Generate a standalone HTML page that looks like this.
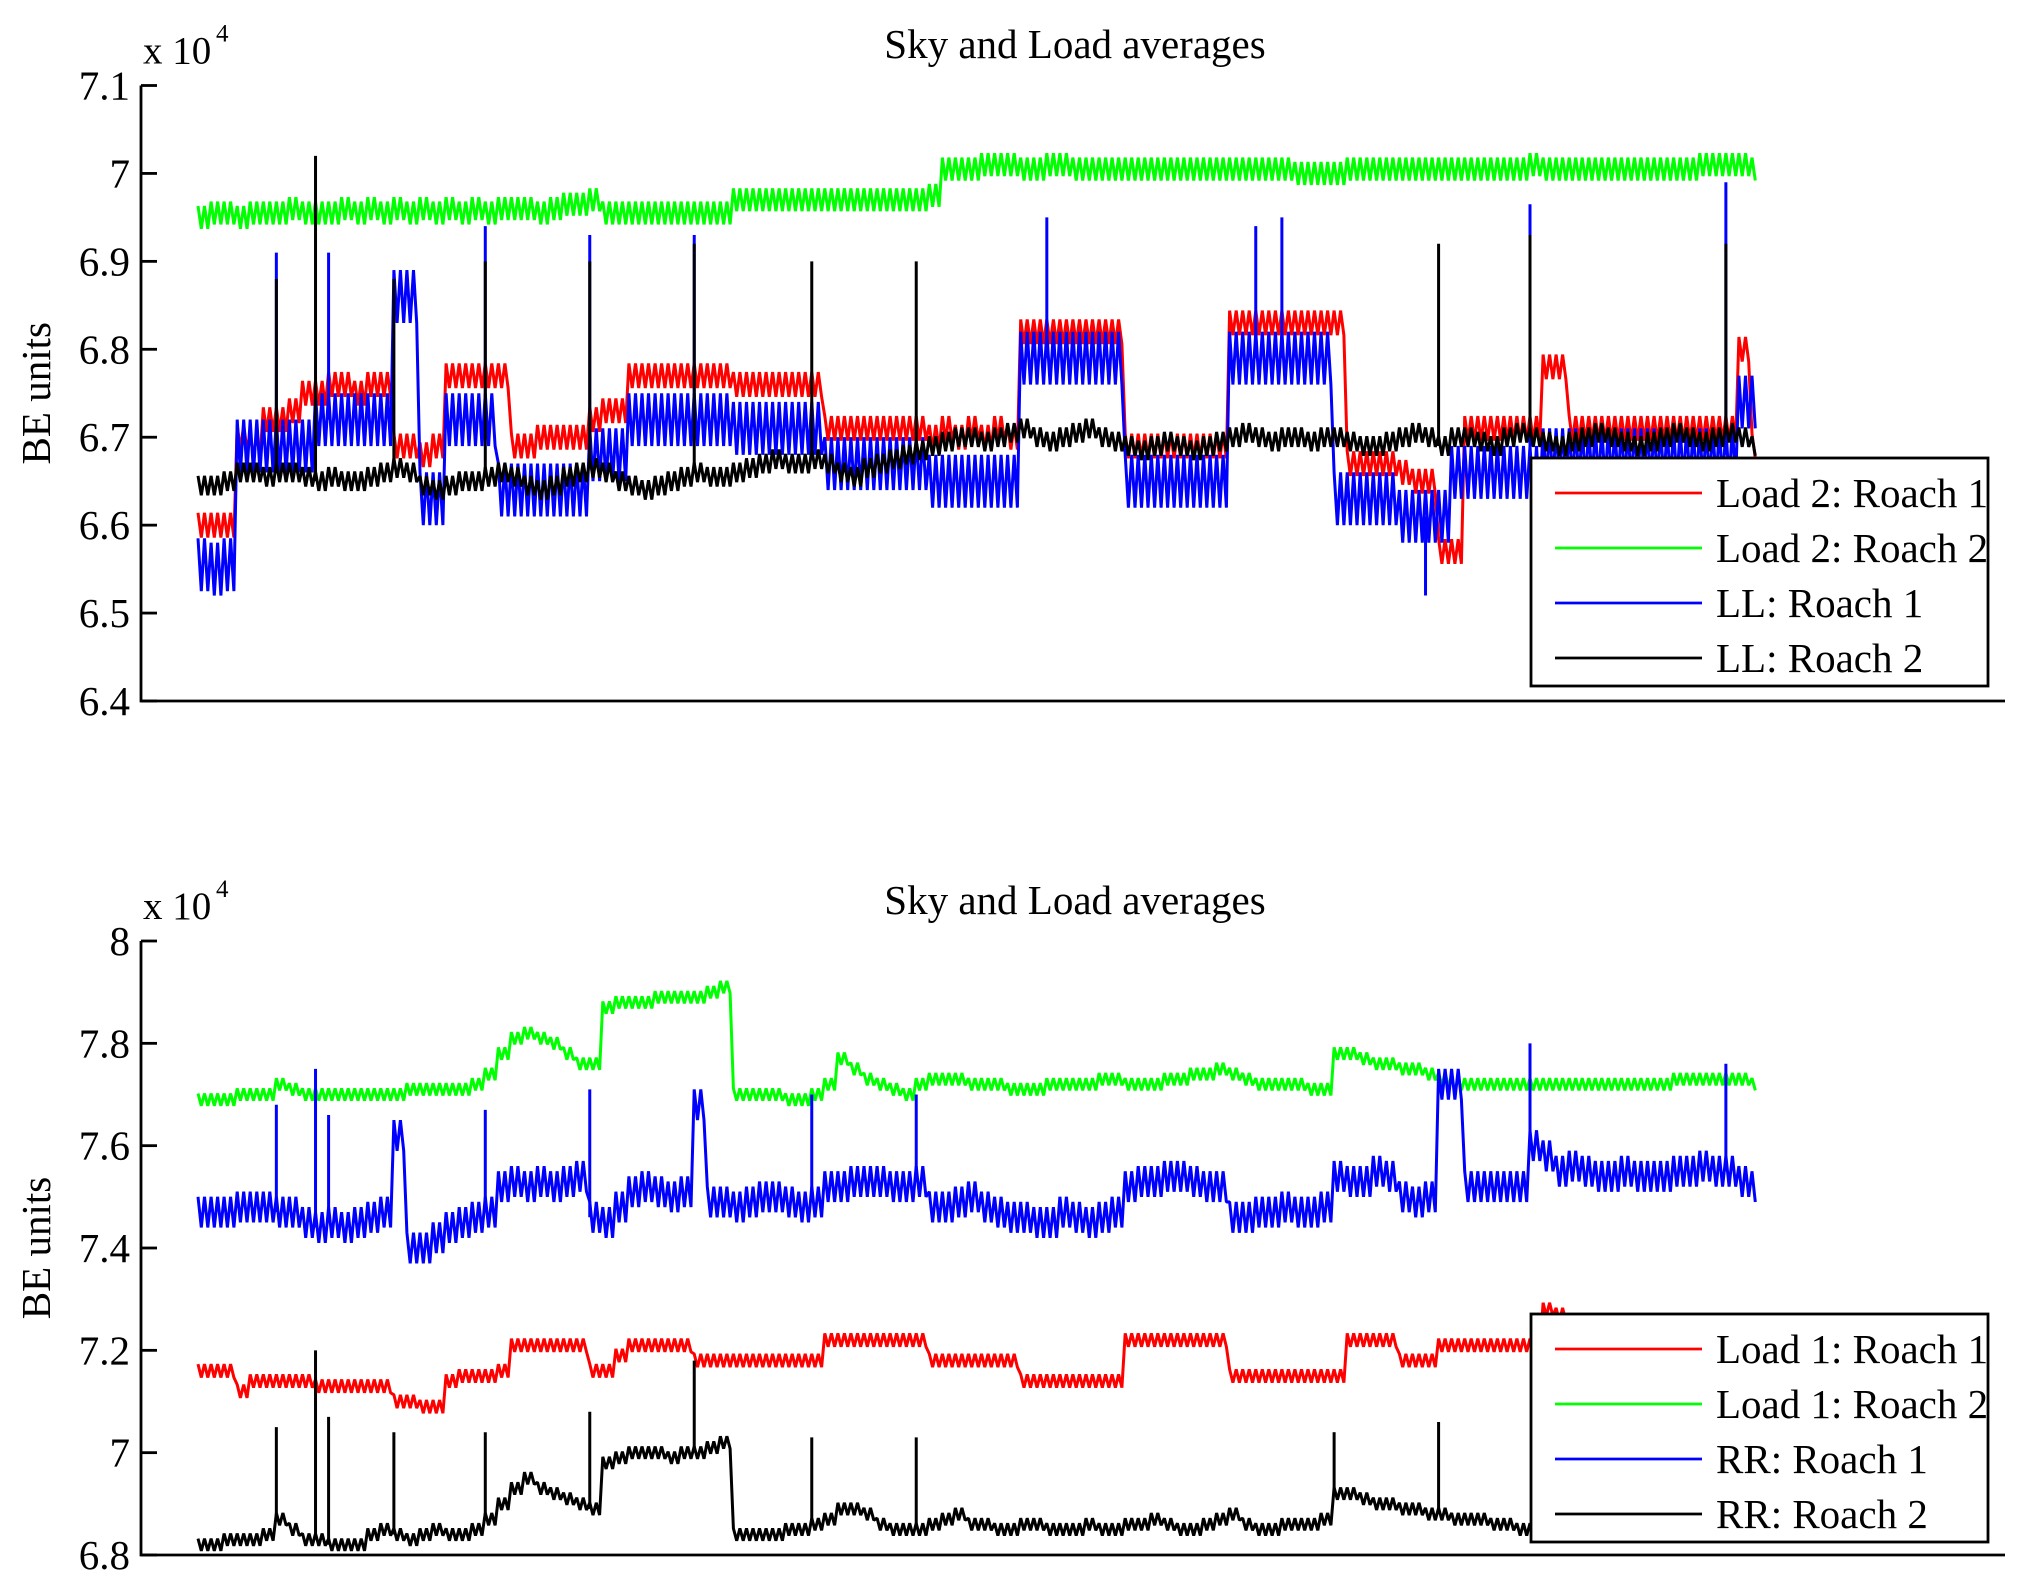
<!DOCTYPE html>
<html><head><meta charset="utf-8"><style>
html,body{margin:0;padding:0;background:#fff;}
svg{display:block;font-family:"Liberation Serif",serif;}
</style></head><body>
<svg id="chart" width="2029" height="1592" viewBox="0 0 2029 1592" xmlns="http://www.w3.org/2000/svg">
<rect width="2029" height="1592" fill="#fff"/>
<g id="top"></g>
<g id="bot"></g>
</svg>
<script>
// ---------- data (values in units of 10^4) ----------
const topRedValues=[6.60,6.60,6.60,6.70,6.69,6.72,6.72,6.73,6.75,6.75,6.76,6.76,6.75,6.76,6.76,6.69,6.69,6.68,6.69,6.77,6.77,6.77,6.77,6.77,6.69,6.69,6.70,6.70,6.70,6.70,6.72,6.73,6.73,6.77,6.77,6.77,6.77,6.77,6.77,6.77,6.77,6.76,6.76,6.76,6.76,6.76,6.76,6.76,6.71,6.71,6.71,6.71,6.71,6.71,6.71,6.71,6.70,6.71,6.70,6.71,6.70,6.71,6.70,6.82,6.82,6.82,6.82,6.82,6.82,6.82,6.82,6.69,6.69,6.69,6.69,6.69,6.69,6.69,6.69,6.83,6.83,6.83,6.83,6.83,6.83,6.83,6.83,6.83,6.67,6.67,6.67,6.67,6.66,6.65,6.65,6.57,6.57,6.71,6.71,6.71,6.71,6.71,6.71,6.78,6.78,6.71,6.71,6.71,6.71,6.71,6.71,6.71,6.71,6.71,6.71,6.71,6.71,6.71,6.80,6.69];
const topGreenValues=[6.95,6.955,6.955,6.95,6.955,6.955,6.955,6.96,6.955,6.955,6.955,6.96,6.955,6.96,6.955,6.96,6.955,6.96,6.955,6.96,6.955,6.96,6.955,6.96,6.96,6.96,6.955,6.96,6.965,6.965,6.97,6.955,6.955,6.955,6.955,6.955,6.955,6.955,6.955,6.955,6.955,6.97,6.97,6.97,6.97,6.97,6.97,6.97,6.97,6.97,6.97,6.97,6.97,6.97,6.97,6.97,6.975,7.005,7.005,7.005,7.01,7.01,7.01,7.005,7.005,7.01,7.01,7.005,7.005,7.005,7.005,7.005,7.005,7.005,7.005,7.005,7.005,7.005,7.005,7.005,7.005,7.005,7.005,7.005,7.0,7.0,7.0,7.0,7.005,7.005,7.005,7.005,7.005,7.005,7.005,7.005,7.005,7.005,7.005,7.005,7.005,7.005,7.01,7.005,7.005,7.005,7.005,7.005,7.005,7.005,7.005,7.005,7.005,7.005,7.005,7.01,7.01,7.01,7.01,7.005];
const topBlueValues=[6.555,6.55,6.555,6.69,6.69,6.69,6.69,6.69,6.69,6.72,6.72,6.72,6.72,6.72,6.72,6.86,6.86,6.63,6.63,6.72,6.72,6.72,6.72,6.64,6.64,6.64,6.64,6.64,6.64,6.64,6.68,6.68,6.68,6.72,6.72,6.72,6.72,6.72,6.72,6.72,6.72,6.71,6.71,6.71,6.71,6.71,6.71,6.71,6.67,6.67,6.67,6.67,6.67,6.67,6.67,6.67,6.65,6.65,6.65,6.65,6.65,6.65,6.65,6.79,6.79,6.79,6.79,6.79,6.79,6.79,6.79,6.65,6.65,6.65,6.65,6.65,6.65,6.65,6.65,6.79,6.79,6.79,6.79,6.79,6.79,6.79,6.79,6.63,6.63,6.63,6.63,6.63,6.61,6.61,6.61,6.61,6.66,6.66,6.66,6.66,6.66,6.66,6.66,6.68,6.68,6.68,6.68,6.68,6.68,6.68,6.68,6.68,6.68,6.68,6.68,6.68,6.68,6.68,6.74,6.74];
const topBlackValues=[6.645,6.645,6.65,6.66,6.66,6.655,6.66,6.66,6.655,6.65,6.655,6.65,6.65,6.655,6.66,6.665,6.66,6.645,6.64,6.645,6.65,6.65,6.655,6.66,6.655,6.645,6.64,6.645,6.655,6.66,6.665,6.66,6.65,6.645,6.64,6.645,6.65,6.655,6.66,6.655,6.655,6.66,6.665,6.67,6.675,6.67,6.67,6.675,6.67,6.66,6.655,6.665,6.67,6.675,6.68,6.685,6.69,6.695,6.70,6.70,6.695,6.70,6.705,6.71,6.70,6.695,6.70,6.705,6.71,6.70,6.695,6.69,6.685,6.69,6.695,6.69,6.685,6.69,6.695,6.70,6.705,6.70,6.695,6.70,6.70,6.695,6.70,6.70,6.695,6.69,6.69,6.695,6.70,6.705,6.70,6.69,6.70,6.70,6.695,6.69,6.70,6.705,6.70,6.695,6.69,6.695,6.70,6.705,6.70,6.695,6.69,6.695,6.70,6.705,6.70,6.695,6.70,6.705,6.70,6.69];
const topBlackSpikeIdx=[6,9,15,22,30,38,47,55,95,102,117];
const topBlackSpikeVal=[6.88,7.02,6.88,6.90,6.90,6.92,6.90,6.90,6.92,6.93,6.92];
const topBlueSpikeIdx=[6,10,22,30,38,65,81,83,102,117,94];
const topBlueSpikeVal=[6.91,6.91,6.94,6.93,6.93,6.95,6.94,6.95,6.965,6.99,6.52];

const botRedValues=[7.16,7.16,7.16,7.12,7.14,7.14,7.14,7.14,7.14,7.13,7.13,7.13,7.13,7.13,7.13,7.10,7.10,7.09,7.09,7.14,7.15,7.15,7.15,7.16,7.21,7.21,7.21,7.21,7.21,7.21,7.16,7.16,7.19,7.21,7.21,7.21,7.21,7.21,7.18,7.18,7.18,7.18,7.18,7.18,7.18,7.18,7.18,7.18,7.22,7.22,7.22,7.22,7.22,7.22,7.22,7.22,7.18,7.18,7.18,7.18,7.18,7.18,7.18,7.14,7.14,7.14,7.14,7.14,7.14,7.14,7.14,7.22,7.22,7.22,7.22,7.22,7.22,7.22,7.22,7.15,7.15,7.15,7.15,7.15,7.15,7.15,7.15,7.15,7.22,7.22,7.22,7.22,7.18,7.18,7.18,7.21,7.21,7.21,7.21,7.21,7.21,7.21,7.21,7.28,7.27,7.21,7.21,7.21,7.21,7.21,7.21,7.21,7.21,7.21,7.21,7.21,7.21,7.21,7.21,7.21];
const botGreenValues=[7.69,7.69,7.69,7.70,7.70,7.70,7.72,7.71,7.70,7.70,7.70,7.70,7.70,7.70,7.70,7.70,7.71,7.71,7.71,7.71,7.71,7.72,7.74,7.78,7.81,7.82,7.81,7.80,7.78,7.76,7.76,7.87,7.88,7.88,7.88,7.89,7.89,7.89,7.89,7.90,7.91,7.70,7.70,7.70,7.70,7.69,7.69,7.70,7.72,7.77,7.75,7.73,7.72,7.71,7.70,7.72,7.73,7.73,7.73,7.72,7.72,7.72,7.71,7.71,7.71,7.72,7.72,7.72,7.72,7.73,7.73,7.72,7.72,7.72,7.73,7.73,7.74,7.74,7.75,7.74,7.73,7.72,7.72,7.72,7.72,7.71,7.71,7.78,7.78,7.77,7.76,7.76,7.75,7.75,7.74,7.73,7.72,7.72,7.72,7.72,7.72,7.72,7.72,7.72,7.72,7.72,7.72,7.72,7.72,7.72,7.72,7.72,7.72,7.73,7.73,7.73,7.73,7.73,7.73,7.72];
const botBlueValues=[7.47,7.47,7.47,7.48,7.48,7.48,7.47,7.47,7.45,7.44,7.45,7.44,7.45,7.46,7.47,7.62,7.40,7.40,7.42,7.44,7.45,7.46,7.47,7.52,7.53,7.52,7.53,7.52,7.53,7.54,7.46,7.45,7.48,7.51,7.52,7.51,7.50,7.51,7.68,7.49,7.49,7.48,7.49,7.50,7.50,7.49,7.48,7.49,7.52,7.52,7.53,7.53,7.53,7.52,7.52,7.53,7.48,7.48,7.49,7.50,7.48,7.47,7.46,7.46,7.45,7.45,7.47,7.46,7.45,7.46,7.47,7.52,7.53,7.53,7.54,7.54,7.53,7.52,7.52,7.46,7.46,7.47,7.47,7.48,7.47,7.47,7.48,7.54,7.53,7.53,7.55,7.54,7.50,7.49,7.50,7.72,7.72,7.52,7.52,7.52,7.52,7.52,7.60,7.58,7.55,7.56,7.55,7.54,7.54,7.55,7.54,7.54,7.54,7.55,7.55,7.56,7.55,7.55,7.53,7.52];
const botBlackValues=[6.82,6.82,6.83,6.83,6.83,6.84,6.87,6.85,6.83,6.83,6.82,6.82,6.82,6.84,6.85,6.84,6.83,6.84,6.85,6.84,6.84,6.85,6.87,6.90,6.93,6.95,6.93,6.92,6.91,6.90,6.89,6.98,6.99,7.00,7.00,7.00,6.99,7.00,7.00,7.01,7.02,6.84,6.84,6.84,6.84,6.85,6.85,6.86,6.87,6.89,6.89,6.88,6.86,6.85,6.85,6.85,6.86,6.87,6.88,6.86,6.86,6.85,6.85,6.86,6.86,6.85,6.85,6.85,6.86,6.85,6.85,6.86,6.86,6.87,6.86,6.85,6.85,6.86,6.87,6.88,6.86,6.85,6.85,6.86,6.86,6.86,6.87,6.92,6.92,6.91,6.90,6.90,6.89,6.89,6.88,6.88,6.87,6.87,6.87,6.86,6.86,6.85,6.85,6.85,6.85,6.85,6.85,6.85,6.85,6.85,6.85,6.85,6.85,6.85,6.85,6.85,6.85,6.85,6.85,6.85];
const botBlackSpikeIdx=[6,9,10,15,22,30,38,47,55,87,95];
const botBlackSpikeVal=[7.05,7.20,7.07,7.04,7.04,7.08,7.18,7.03,7.03,7.04,7.06];
const botBlueSpikeIdx=[6,9,10,22,30,47,55,102,117];
const botBlueSpikeVal=[7.68,7.75,7.66,7.67,7.71,7.70,7.70,7.80,7.76];

const topTicks=["7.1","7","6.9","6.8","6.7","6.6","6.5","6.4"];
const topTickVals=[7.1,7.0,6.9,6.8,6.7,6.6,6.5,6.4];
const botTicks=["8","7.8","7.6","7.4","7.2","7","6.8"];
const botTickVals=[8.0,7.8,7.6,7.4,7.2,7.0,6.8];
const topLegend=["Load 2: Roach 1","Load 2: Roach 2","LL: Roach 1","LL: Roach 2"];
const botLegend=["Load 1: Roach 1","Load 1: Roach 2","RR: Roach 1","RR: Roach 2"];
const colors=["#ff0000","#00ff00","#0000ff","#000000"];

// ---------- rendering ----------
const NS="http://www.w3.org/2000/svg";
function mk(parent,tag,attrs){const e=document.createElementNS(NS,tag);for(const k in attrs)e.setAttribute(k,attrs[k]);parent.appendChild(e);return e;}
const N=topRedValues.length;
const X0=198,X1=1752;
const SUB=2;
function xScale(i){return X0+i*(X1-X0)/(N-1);}

function panel(g,cfg){
  const y=v=>cfg.yTop+(cfg.vMax-v)*(cfg.yBot-cfg.yTop)/(cfg.vMax-cfg.vMin);
  const step=(X1-X0)/(N-1);
  cfg.series.forEach((s,si)=>{
    let pts=[];
    for(let i=0;i<s.vals.length;i++){
      const x=xScale(i);
      const nSub=(i===s.vals.length-1)?1:SUB;
      for(let j=0;j<nSub;j++){
        const xa=x+j*step/SUB, xb=xa+step/SUB/2;
        pts.push(xa.toFixed(1)+","+y(s.vals[i]+s.spread).toFixed(1));
        pts.push(xb.toFixed(1)+","+y(s.vals[i]-s.spread).toFixed(1));
      }
    }
    const pl=mk(g,"polyline",{points:pts.join(" "),fill:"none",stroke:colors[si],"stroke-width":"3","stroke-linejoin":"bevel"});
    
    
    if(s.spIdx){
      s.spIdx.forEach((idx,k)=>{
        const x=xScale(idx);
        const ln=mk(g,"line",{x1:x,x2:x,y1:y(s.vals[idx]),y2:y(s.spVal[k]),stroke:colors[si],"stroke-width":"3"});
        
        
      });
    }
  });
  const ax=mk(g,"path",{d:`M141,${cfg.yTop} L141,${cfg.yBot} L2005,${cfg.yBot}`,fill:"none",stroke:"#000","stroke-width":"2.8"});
  
  
  cfg.tickVals.forEach((v,k)=>{
    const yy=y(v);
    const t=mk(g,"line",{x1:141,x2:157,y1:yy,y2:yy,stroke:"#000","stroke-width":"2.8"});
    
    
    const lb=mk(g,"text",{x:130,y:yy+14,"text-anchor":"end","font-size":"41"});
    lb.textContent=cfg.ticks[k];
    
    
  });
  const ex=mk(g,"text",{x:143,y:cfg.yTop-22,"font-size":"39"});
  ex.textContent="x 10";
  
  
  const sup=mk(g,"text",{x:216,y:cfg.yTop-44,"font-size":"25"});
  sup.textContent="4";
  
  
  const ti=mk(g,"text",{x:1075,y:cfg.titleY,"text-anchor":"middle","font-size":"41"});
  ti.textContent="Sky and Load averages";
  
  
  const ym=(cfg.yTop+cfg.yBot)/2;
  const yl=mk(g,"text",{x:0,y:0,"text-anchor":"middle","font-size":"41",transform:`translate(50,${ym}) rotate(-90)`});
  yl.textContent="BE units";
  
  
  const lg=mk(g,"g",{});
  
  
  mk(lg,"rect",{x:1531,y:cfg.legTop,width:457,height:cfg.legH,fill:"#fff",stroke:"#000","stroke-width":"2.8"});
  cfg.legend.forEach((txt,k)=>{
    const ey=cfg.legTop+35+k*cfg.legStep;
    const en=mk(lg,"g",{});
    
    
    mk(en,"line",{x1:1555,x2:1702,y1:ey,y2:ey,stroke:colors[k],"stroke-width":"2.8"});
    const tt=mk(en,"text",{x:1716,y:ey+14,"font-size":"41"});
    tt.textContent=txt;
  });
}

panel(document.getElementById("top"),{prefix:"top",yTop:85.5,yBot:701,vMax:7.1,vMin:6.4,ticks:topTicks,tickVals:topTickVals,titleY:58,legend:topLegend,legTop:458,legH:228,legStep:55,
  series:[{vals:topRedValues,spread:0.014},{vals:topGreenValues,spread:0.013},{vals:topBlueValues,spread:0.03,spIdx:topBlueSpikeIdx,spVal:topBlueSpikeVal},{vals:topBlackValues,spread:0.011,spIdx:topBlackSpikeIdx,spVal:topBlackSpikeVal}]});
panel(document.getElementById("bot"),{prefix:"bottom",yTop:941,yBot:1555,vMax:8.0,vMin:6.8,ticks:botTicks,tickVals:botTickVals,titleY:914,legend:botLegend,legTop:1314,legH:228,legStep:55,
  series:[{vals:botRedValues,spread:0.013},{vals:botGreenValues,spread:0.012},{vals:botBlueValues,spread:0.03,spIdx:botBlueSpikeIdx,spVal:botBlueSpikeVal},{vals:botBlackValues,spread:0.012,spIdx:botBlackSpikeIdx,spVal:botBlackSpikeVal}]});
</script>
</body></html>
